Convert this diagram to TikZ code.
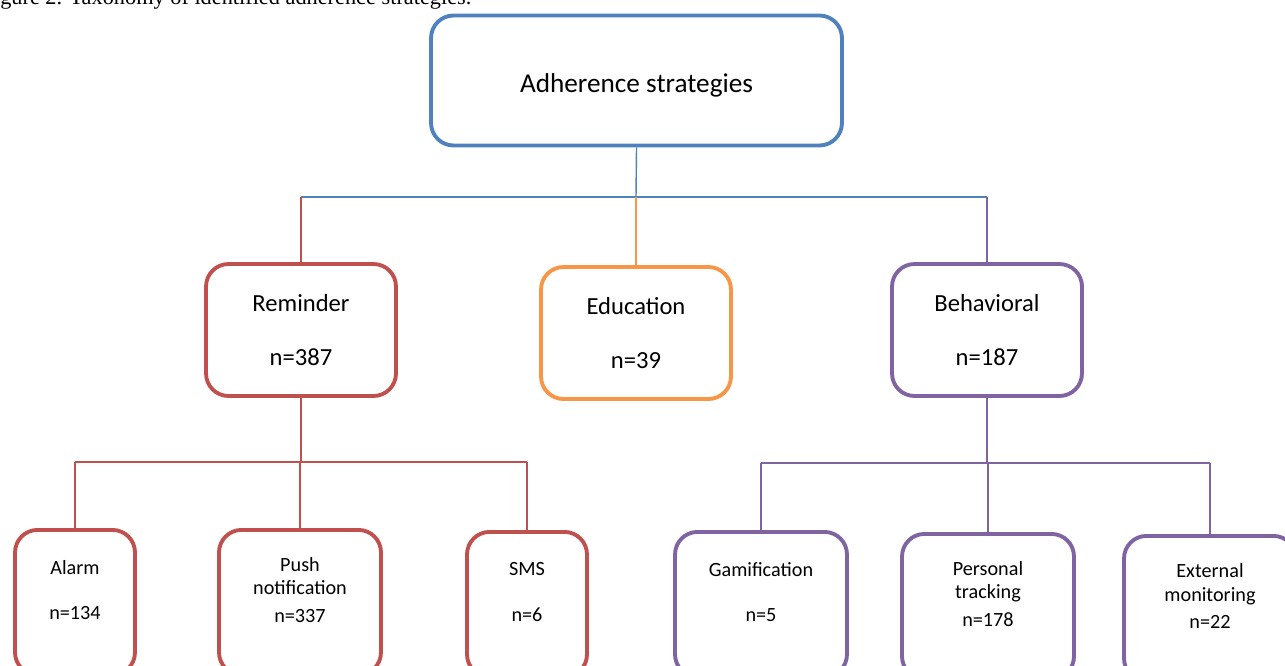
\documentclass[tikz,border=0pt]{standalone}
\usepackage{fontspec}
\setmainfont{Carlito}
\newfontfamily\capfont{Liberation Serif}
\usepackage{xcolor}
\usepackage{tikz}
\usetikzlibrary{positioning, calc}
\definecolor{adhblue}{RGB}{79,129,189}
\definecolor{remred}{RGB}{192,80,77}
\definecolor{eduorange}{RGB}{247,150,70}
\definecolor{behpurple}{RGB}{128,100,162}

\begin{document}
\begin{tikzpicture}[x=0.02cm, y=-0.02cm,
  box/.style={draw, line width=2.2pt, rounded corners=0.45cm, align=center, inner sep=0pt},
  link/.style={line width=0.8pt}]
  \useasboundingbox (0,0) rectangle (1285,666);
  % caption, cut by the top edge
  \node[anchor=base west, inner sep=0pt, font=\capfont\fontsize{12.7}{15}\selectfont] (cap) at (-18.7,5) {Figure 2. Taxonomy of identified adherence strategies.};
  % root
  \node[box, draw=adhblue, minimum width=8.22cm, minimum height=2.6cm, text height=14pt, text depth=0pt, font=\fontsize{15.5}{18}\selectfont] (root) at (636.5,80.5) {Adherence strategies};
  % second level
  \begin{scope}[font=\fontsize{14}{17}\selectfont]
    \node[box, draw=remred, minimum width=3.8cm, minimum height=2.64cm] (rem) at (301,330) {Reminder\\[13.6pt]n=387};
    \node[box, draw=eduorange, minimum width=3.8cm, minimum height=2.64cm] (edu) at (636,333) {Education\\[13.6pt]n=39};
    \node[box, draw=behpurple, minimum width=3.8cm, minimum height=2.64cm] (beh) at (987,330) {Behavioral\\[13.6pt]n=187};
  \end{scope}
  % third level: name/x/top/width/text/colour
  \foreach \nm/\xx/\yy/\ww/\txt/\col in {
    alarm/75/528/2.40/{Alarm\\[12.4pt]n=134}/remred,
    push/300/528/3.24/{Push\\notification\\[2.3pt]n=337}/remred,
    sms/527/530/2.40/{SMS\\[12.4pt]n=6}/remred,
    gam/761/530/3.44/{Gamification\\[12.4pt]n=5}/behpurple,
    per/988/532/3.44/{Personal\\tracking\\[2.3pt]n=178}/behpurple,
    ext/1210/534/3.44/{External\\monitoring\\[2.3pt]n=22}/behpurple}{
    \node[box, draw=\col, minimum width=\ww cm, minimum height=2.9cm, anchor=north] (\nm) at (\xx,\yy) {};
    \node[align=center, inner sep=0pt, font=\fontsize{11.5}{13.6}\selectfont] (\nm-txt) at ($(\nm.north)+(0,62)$) {\txt};
  }
  % links from the root
  \coordinate (hub) at (636,197);
  \draw[link, adhblue] (root.south) -- (hub);
  \draw[link, adhblue] (rem.north |- hub) -- (beh.north |- hub);
  \draw[link, remred] (rem.north |- hub) -- (rem.north);
  \draw[link, eduorange] (hub) -- (edu.north);
  \draw[link, behpurple] (beh.north |- hub) -- (beh.north);
  % links below reminder
  \coordinate (remhub) at (301,462);
  \draw[link, remred] (rem.south) -- (remhub);
  \draw[link, remred] (alarm.north |- remhub) -- (sms.north |- remhub);
  \foreach \kid in {alarm,push,sms}
    \draw[link, remred] (\kid.north |- remhub) -- (\kid.north);
  % links below behavioral
  \coordinate (behhub) at (987,463);
  \draw[link, behpurple] (beh.south) -- (behhub);
  \draw[link, behpurple] (gam.north |- behhub) -- (ext.north |- behhub);
  \foreach \kid in {gam,per,ext}
    \draw[link, behpurple] (\kid.north |- behhub) -- (\kid.north);
\end{tikzpicture}
\end{document}
